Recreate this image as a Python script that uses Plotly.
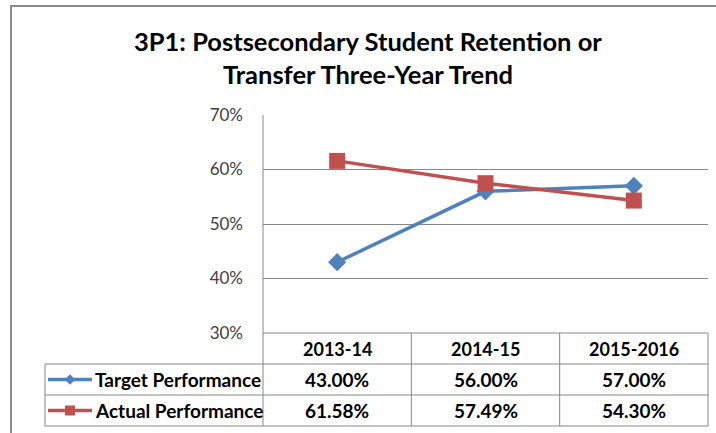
import plotly.graph_objects as go

categories = ["2013-14", "2014-15", "2015-2016"]
target = [0.43, 0.56, 0.57]
actual = [0.6158, 0.5749, 0.5430]
series_names = ["Target Performance", "Actual Performance"]
y_ticks = [0.30, 0.40, 0.50, 0.60, 0.70]
title_lines = ["3P1: Postsecondary Student Retention or", "Transfer Three-Year Trend"]

W, H = 716, 433
BLUE = "#4F81BD"
RED = "#C0504D"
GRID = "#878787"
FONT = "Lato"

# plot area in pixels
PL, PR, PT, PB = 263, 708, 115, 333
ROW_LINES = [333, 364, 395, 426]
TABLE_LEFT = 45

fig = go.Figure()
xs = list(range(len(categories)))
fig.add_trace(go.Scatter(x=xs, y=target, mode="lines+markers", name=series_names[0],
                         line=dict(color=BLUE, width=3.5),
                         marker=dict(symbol="diamond", size=14, color=BLUE),
                         xaxis="x", yaxis="y", showlegend=False))
fig.add_trace(go.Scatter(x=xs, y=actual, mode="lines+markers", name=series_names[1],
                         line=dict(color=RED, width=3.5),
                         marker=dict(symbol="square", size=16, color=RED),
                         xaxis="x", yaxis="y", showlegend=False))

# legend keys in the table (pixel overlay axes)
row_centers = [(ROW_LINES[i] + ROW_LINES[i + 1]) / 2 for i in range(3)]
for i, (col, sym, sz) in enumerate([(BLUE, "diamond", 8), (RED, "square", 10)]):
    yc = row_centers[i + 1]
    fig.add_trace(go.Scatter(x=[48, 92], y=[yc, yc], mode="lines",
                             line=dict(color=col, width=3.5),
                             xaxis="x2", yaxis="y2", showlegend=False, hoverinfo="skip"))
    fig.add_trace(go.Scatter(x=[70], y=[yc], mode="markers",
                             marker=dict(symbol=sym, size=sz, color=col),
                             xaxis="x2", yaxis="y2", showlegend=False, hoverinfo="skip"))

shapes = []
def line(x0, y0, x1, y1, color=GRID, w=1):
    shapes.append(dict(type="line", x0=x0 / W, y0=1 - y0 / H, x1=x1 / W, y1=1 - y1 / H,
                       xref="paper", yref="paper",
                       line=dict(color=color, width=w), layer="below"))

# outer border
line(10, 6, 716, 6, "#8C8C8C", 2)
line(11, 5, 11, 433, "#8C8C8C", 2)
# table horizontal lines
line(PL, ROW_LINES[0], PR, ROW_LINES[0])
for yv in ROW_LINES[1:]:
    line(TABLE_LEFT, yv, PR, yv)
# table vertical lines
colw = (PR - PL) / len(categories)
for k in range(len(categories) + 1):
    line(PL + k * colw, ROW_LINES[0], PL + k * colw, ROW_LINES[-1])
line(TABLE_LEFT, ROW_LINES[1], TABLE_LEFT, ROW_LINES[-1])
# axis line
line(PL, PT, PL, PB)

def py(v):
    return 1 - v / H

annotations = []
for j, t in enumerate(title_lines):
    annotations.append(dict(text="<b>%s</b>" % t, x=368 / W, y=py(41 + 33 * j), xref="paper", yref="paper",
                            showarrow=False, font=dict(family=FONT, size=25.5, color="#000000"),
                            xanchor="center", yanchor="middle"))
for i, c in enumerate(categories):
    annotations.append(dict(text="<b>%s</b>" % c, x=i, y=py(row_centers[0]), xref="x", yref="paper",
                            showarrow=False, font=dict(family=FONT, size=18, color="#000000"),
                            xanchor="center", yanchor="middle"))
for r, vals in enumerate([target, actual]):
    yc = row_centers[r + 1]
    annotations.append(dict(text="<b>%s</b>" % series_names[r], x=93 / W, y=py(yc), xref="paper", yref="paper",
                            showarrow=False, font=dict(family=FONT, size=19, color="#000000"),
                            xanchor="left", yanchor="middle"))
    for i, v in enumerate(vals):
        annotations.append(dict(text="<b>%.2f%%</b>" % (v * 100), x=i, y=py(yc), xref="x", yref="paper",
                                showarrow=False, font=dict(family=FONT, size=19, color="#000000"),
                                xanchor="center", yanchor="middle"))

fig.update_layout(
    width=W, height=H, margin=dict(l=0, r=0, t=0, b=0, autoexpand=False),
    paper_bgcolor="white", plot_bgcolor="rgba(0,0,0,0)",
    xaxis=dict(domain=[PL / W, PR / W], range=[-0.5, 2.5], showgrid=False, zeroline=False,
               showticklabels=False, showline=False, fixedrange=True, anchor="y", automargin=False),
    yaxis=dict(domain=[1 - PB / H, 1 - PT / H], range=[0.30, 0.70], tickvals=y_ticks,
               tickformat=".0%", showgrid=True, gridcolor=GRID, gridwidth=1, zeroline=False,
               showline=False, ticks="", ticklabelstandoff=19, anchor="x", automargin=False,
               tickfont=dict(family=FONT, size=17, color="#404040"), fixedrange=True),
    xaxis2=dict(domain=[0, 1], range=[0, W], visible=False, anchor="y2", fixedrange=True, automargin=False),
    yaxis2=dict(domain=[0, 1], range=[H, 0], visible=False, anchor="x2", fixedrange=True, automargin=False),
    shapes=shapes, annotations=annotations, showlegend=False,
)

fig.write_html("out.html", config={"displayModeBar": False},
               post_script="document.body.style.margin='0';document.body.style.overflow='hidden';")
